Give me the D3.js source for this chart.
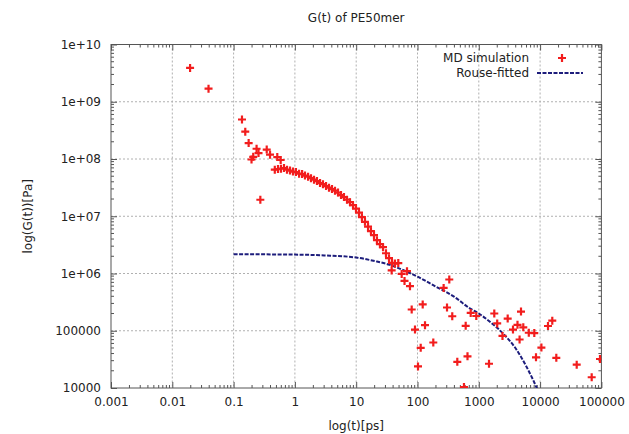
<!DOCTYPE html>
<html><head><meta charset="utf-8">
<script src="https://cdn.jsdelivr.net/npm/d3@7"></script>
<style>
html,body{margin:0;padding:0;background:#fff;}
svg{display:block;font-family:"DejaVu Sans",sans-serif;}
</style></head>
<body><svg id="chart" width="629" height="434"></svg>
<script>
const title = "G(t) of PE50mer";
const xLabel = "log(t)[ps]";
const yLabel = "log(G(t))[Pa]";
const xTickValues = [0.001, 0.01, 0.1, 1, 10, 100, 1000, 10000, 100000];
const xTickLabels = ["0.001", "0.01", "0.1", "1", "10", "100", "1000", "10000", "100000"];
const yTickValues = [1e4, 1e5, 1e6, 1e7, 1e8, 1e9, 1e10];
const yTickLabels = ["10000", "100000", "1e+06", "1e+07", "1e+08", "1e+09", "1e+10"];
const seriesNames = ["MD simulation", "Rouse-fitted"];

const mdTime = [0.0195, 0.039, 0.137, 0.155, 0.176, 0.237, 0.255, 0.209, 0.196, 0.347, 0.393, 0.516, 0.586, 0.273,
  0.47, 0.53, 0.593, 0.664, 0.743, 0.832, 0.931, 1.04, 1.17, 1.31, 1.46, 1.64, 1.83, 2.05, 2.29, 2.57, 2.87, 3.22, 3.60,
  4.03, 4.51, 5.05, 5.65, 6.32, 7.08, 7.92, 8.87, 9.92, 11.1, 12.4, 13.9, 15.6, 17.4, 19.5, 21.8, 24.4, 27.4, 30.6,
  34.3, 38.4, 42.9, 48.6,
  37.9, 55.2, 67.4, 61.4, 75.4, 80.4, 91.0, 121.6, 132.6, 112.8, 101.9, 181, 267, 330, 303, 369, 446, 573, 611, 654,
  738, 910, 1467, 1789, 1996, 2435, 2960, 3613, 4278, 4880, 5318, 4629, 6540, 8040, 10500, 8570, 13450, 15800, 18380,
  39550, 69450, 94870];
const mdG = [3.9e9, 1.69e9, 4.9e8, 3.0e8, 1.9e8, 1.51e8, 1.27e8, 1.09e8, 9.8e7, 1.46e8, 1.19e8, 1.08e8, 9.6e7, 1.94e7,
  6.52e7, 6.66e7, 6.79e7, 6.93e7, 6.52e7, 6.27e7, 6.02e7, 5.90e7, 5.55e7, 5.45e7, 5.13e7, 4.92e7, 4.63e7, 4.36e7, 4.11e7,
  3.79e7, 3.64e7, 3.36e7, 3.16e7, 2.98e7, 2.80e7, 2.59e7, 2.34e7, 2.16e7, 1.95e7, 1.76e7, 1.56e7, 1.36e7, 1.16e7, 9.64e6,
  7.98e6, 6.58e6, 5.49e6, 4.67e6, 3.82e6, 3.25e6, 2.88e6, 2.26e6, 1.85e6, 1.53e6, 1.49e6, 1.52e6,
  1.13e6, 9.84e5, 1.10e6, 7.42e5, 6.0e5, 2.35e5, 1.05e5, 2.88e5, 1.25e5, 5.04e4, 2.38e4, 6.24e4, 5.60e5, 7.85e5, 2.55e5,
  1.79e5, 2.87e4, 1.04e4, 1.22e5, 3.58e4, 2.05e5, 1.81e5, 2.65e4, 2.0e5, 1.34e5, 8.11e4, 1.63e5, 1.05e5, 1.27e5, 2.16e5,
  1.15e5, 7.04e4, 9.22e4, 9.11e4, 5.08e4, 3.44e4, 1.21e5, 1.50e5, 3.37e4, 2.56e4, 1.54e4, 3.21e4];

const rouseTime = [0.1, 0.3, 1, 3, 10, 20, 35, 51, 100, 200, 400, 700, 1000, 1500, 2500, 4000, 6000, 7700, 9000];
const rouseG = [2.17e6, 2.16e6, 2.14e6, 2.07e6, 1.9e6, 1.65e6, 1.42e6, 1.22e6, 8.8e5, 5.9e5, 3.9e5, 2.5e5, 2.0e5,
  1.45e5, 8.9e4, 4.9e4, 2.35e4, 1.38e4, 9.5e3];

const svg = d3.select("#chart");
const L = 111, R = 601.4, T = 44.5, B = 388;
const x = d3.scaleLog().domain([0.001, 100000]).range([L, R]);
const y = d3.scaleLog().domain([1e4, 1e10]).range([B, T]);
const red = "#f21d1d", navy = "#1d1d7c";
const FONT = "DejaVu Sans, sans-serif";

// grid
const grid = svg.append("g").attr("stroke", "#b0b0b0").attr("stroke-width", 1).attr("stroke-dasharray", "2,2");
xTickValues.slice(1, -1).forEach(v => grid.append("line").attr("x1", x(v)).attr("x2", x(v)).attr("y1", T).attr("y2", B));
yTickValues.slice(1, -1).forEach(v => grid.append("line").attr("x1", L).attr("x2", R).attr("y1", y(v)).attr("y2", y(v)));

// minor ticks
const minor = svg.append("g").attr("stroke", "#555").attr("stroke-width", 1);
x.ticks().forEach(v => {
  if (xTickValues.includes(v)) return;
  const px = x(v);
  minor.append("line").attr("x1", px).attr("x2", px).attr("y1", B).attr("y2", B - 3);
  minor.append("line").attr("x1", px).attr("x2", px).attr("y1", T).attr("y2", T + 3);
});
y.ticks().forEach(v => {
  if (yTickValues.includes(v)) return;
  const py = y(v);
  minor.append("line").attr("x1", L).attr("x2", L + 3).attr("y1", py).attr("y2", py);
  minor.append("line").attr("x1", R).attr("x2", R - 3).attr("y1", py).attr("y2", py);
});

// axes
const fmtX = v => xTickLabels[xTickValues.indexOf(v)];
const fmtY = v => yTickLabels[yTickValues.indexOf(v)];
const gx = svg.append("g").attr("transform", `translate(0,${B})`)
  .call(d3.axisBottom(x).tickValues(xTickValues).tickFormat(fmtX).tickSizeInner(-6).tickSizeOuter(0).tickPadding(9));
const gxt = svg.append("g").attr("transform", `translate(0,${T})`)
  .call(d3.axisTop(x).tickValues(xTickValues).tickFormat("").tickSizeInner(-6).tickSizeOuter(0));
const gy = svg.append("g").attr("transform", `translate(${L},0)`)
  .call(d3.axisLeft(y).tickValues(yTickValues).tickFormat(fmtY).tickSizeInner(-6).tickSizeOuter(0).tickPadding(10));
const gyr = svg.append("g").attr("transform", `translate(${R},0)`)
  .call(d3.axisRight(y).tickValues(yTickValues).tickFormat("").tickSizeInner(-6).tickSizeOuter(0));
[gx, gxt, gy, gyr].forEach(g => {
  g.select(".domain").remove();
  g.selectAll(".tick line").attr("stroke", "#555");
  g.selectAll("text").attr("font-size", 12).attr("fill", "#222").attr("font-family", FONT);
});

// frame
svg.append("rect").attr("x", L).attr("y", T).attr("width", R - L).attr("height", B - T)
  .attr("fill", "none").attr("stroke", "#555").attr("stroke-width", 1);

// clip
svg.append("clipPath").attr("id", "clip").append("rect")
  .attr("x", L).attr("y", T).attr("width", R - L).attr("height", B - T);

// Rouse line
const rouse = rouseTime.map((t, i) => [t, rouseG[i]]);
svg.append("path").datum(rouse).attr("clip-path", "url(#clip)")
  .attr("fill", "none").attr("stroke", navy).attr("stroke-width", 2).attr("stroke-dasharray", "4,1.5")
  .attr("d", d3.line().x(d => x(d[0])).y(d => y(d[1])).curve(d3.curveMonotoneX));

// MD points
const md = mdTime.map((t, i) => [t, mdG[i]]);
const plus = (g, cx, cy) => {
  g.append("path").attr("d", `M${cx - 4},${cy}H${cx + 4}M${cx},${cy - 4}V${cy + 4}`)
    .attr("stroke", red).attr("stroke-width", 2.2).attr("fill", "none");
};
const pts = svg.append("g").attr("clip-path", "url(#clip)");
md.forEach(d => plus(pts, x(d[0]), y(d[1])));

// legend
const lg = svg.append("g").attr("font-size", 12).attr("fill", "#222").attr("font-family", FONT);
lg.append("text").attr("x", 529).attr("y", 62).attr("text-anchor", "end").text(seriesNames[0]);
lg.append("text").attr("x", 529).attr("y", 77).attr("text-anchor", "end").text(seriesNames[1]);
plus(lg, 562, 58);
lg.append("line").attr("x1", 537).attr("x2", 583).attr("y1", 73).attr("y2", 73)
  .attr("stroke", navy).attr("stroke-width", 2).attr("stroke-dasharray", "4,1.5");

// title & labels
svg.append("text").attr("x", (L + R) / 2).attr("y", 22).attr("text-anchor", "middle").attr("font-family", FONT)
  .attr("font-size", 12).attr("fill", "#222").text(title);
svg.append("text").attr("x", (L + R) / 2).attr("y", 430).attr("text-anchor", "middle").attr("font-family", FONT)
  .attr("font-size", 12).attr("fill", "#222").text(xLabel);
svg.append("text").attr("transform", `translate(32,${(T + B) / 2}) rotate(-90)`).attr("text-anchor", "middle")
  .attr("font-family", FONT).attr("font-size", 12).attr("fill", "#222").text(yLabel);
</script>
</body></html>
